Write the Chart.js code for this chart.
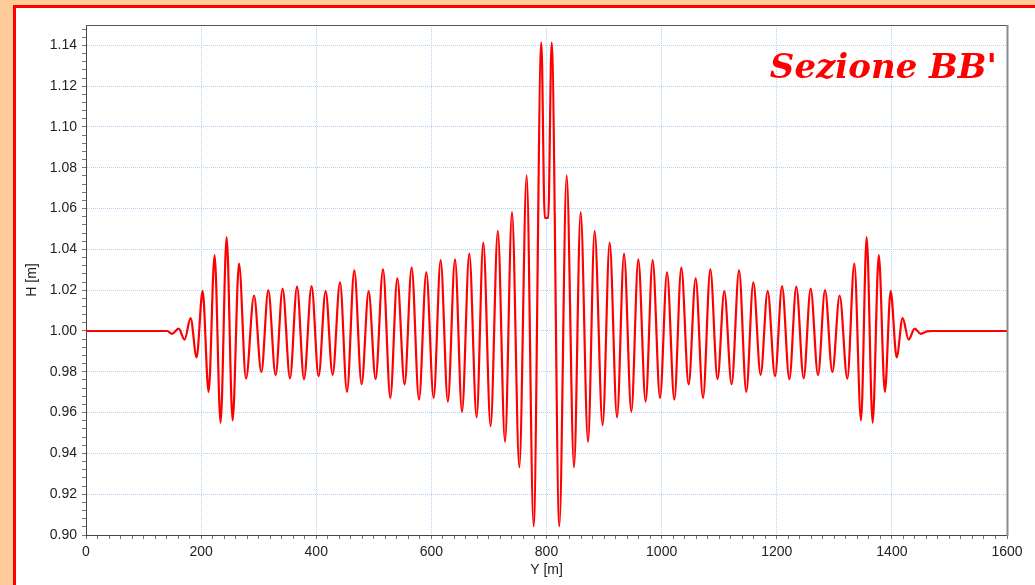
<!DOCTYPE html>
<html><head><meta charset="utf-8">
<script src="https://cdn.jsdelivr.net/npm/chart.js@4.4.1/dist/chart.umd.min.js"></script>
<style>
html,body{margin:0;padding:0;width:1035px;height:585px;overflow:hidden;background:#FFCC99;}
#panel{position:absolute;left:13px;top:5px;width:1100px;height:700px;background:#ffffff;border-left:3px solid #ff0000;border-top:3px solid #ff0000;}
#c{position:absolute;left:0;top:0;}
</style></head><body>
<div id="panel"></div>
<canvas id="c" width="1035" height="585"></canvas>
<script>
// Y [m] positions of the curve's turning points
const posY = [0, 141, 149.4, 160.9, 171.3, 181.7, 192.1, 202.6, 213.0, 223.4, 233.8, 244.3, 254.7, 265.8, 278.0, 291.9, 304.6, 316.7, 329.4, 341.6, 354.4, 366.6, 378.7, 391.9, 404.1, 416.3, 428.4, 441.3, 453.4, 466.1, 478.8, 491.0, 503.1, 516.0, 528.7, 540.8, 553.5, 565.7, 578.5, 591.2, 603.9, 616.1, 628.6, 641.1, 653.2, 665.9, 678.6, 690.2, 702.9, 715.4, 727.9, 740.1, 752.8, 765.5, 777.6, 791.0, 797.0, 803.0, 808.9, 822.3, 835.0, 847.8, 859.3, 872.1, 883.6, 897.5, 909.7, 922.5, 934.7, 947.4, 959.5, 972.2, 984.4, 997.2, 1009.4, 1022.1, 1034.2, 1046.9, 1059.1, 1071.9, 1084.6, 1097.1, 1108.9, 1121.6, 1134.5, 1147.1, 1159.3, 1172.0, 1184.2, 1197.0, 1209.2, 1221.9, 1234.0, 1246.7, 1258.9, 1271.7, 1283.9, 1296.6, 1309.3, 1322.6, 1334.8, 1346.4, 1356.2, 1366.6, 1377.3, 1387.8, 1397.9, 1408.3, 1418.7, 1429.1, 1439.6, 1450.0, 1461.1, 1470, 1600];
// H [m] at those positions
const hH = [1.000, 1.000, 0.9986, 1.0012, 0.9958, 1.0063, 0.9871, 1.0195, 0.9702, 1.0372, 0.9550, 1.0460, 0.9562, 1.0331, 0.9766, 1.0174, 0.9798, 1.0200, 0.9783, 1.0208, 0.9768, 1.0218, 0.9764, 1.0220, 0.9778, 1.0197, 0.9785, 1.0239, 0.9702, 1.0297, 0.9739, 1.0195, 0.9764, 1.0302, 0.9672, 1.0258, 0.9738, 1.0311, 0.9664, 1.0288, 0.9672, 1.0347, 0.9654, 1.0351, 0.9604, 1.0379, 0.9577, 1.0433, 0.9533, 1.0491, 0.9457, 1.0583, 0.9332, 1.0763, 0.9043, 1.1414, 1.0555, 1.0555, 1.1414, 0.9043, 1.0763, 0.9332, 1.0583, 0.9457, 1.0490, 0.9538, 1.0433, 0.9577, 1.0379, 0.9604, 1.0351, 0.9654, 1.0347, 0.9672, 1.0288, 0.9664, 1.0311, 0.9738, 1.0258, 0.9672, 1.0302, 0.9764, 1.0195, 0.9739, 1.0297, 0.9702, 1.0239, 0.9785, 1.0197, 0.9778, 1.0220, 0.9764, 1.0218, 0.9768, 1.0208, 0.9783, 1.0200, 0.9798, 1.0174, 0.9766, 1.0331, 0.9562, 1.0460, 0.9550, 1.0372, 0.9702, 1.0195, 0.9871, 1.0063, 0.9958, 1.0012, 0.9986, 0.9998, 1.000, 1.000];
// labelled tick values
const xTickLabels = [0, 200, 400, 600, 800, 1000, 1200, 1400, 1600];
const yTickLabels = [0.90, 0.92, 0.94, 0.96, 0.98, 1.00, 1.02, 1.04, 1.06, 1.08, 1.10, 1.12, 1.14];
const chartTitle = "Sezione BB'";

const isMajorX = v => xTickLabels.some(t => Math.abs(t - v) < 1e-6);
const isMajorY = v => yTickLabels.some(t => Math.abs(t - v) < 1e-6);
const FONT = "'Liberation Sans', Arial, sans-serif";
const GRID = '#b4d2f8';

const titlePlugin = {
  id: 'sectionTitle',
  afterDraw(chart) {
    const ctx = chart.ctx, a = chart.chartArea;
    ctx.save();
    // top and right frame lines
    ctx.strokeStyle = '#555'; ctx.lineWidth = 1;
    ctx.beginPath(); ctx.moveTo(a.left, a.top + 0.5); ctx.lineTo(a.right, a.top + 0.5); ctx.stroke();
    ctx.strokeStyle = '#8a8a8a'; ctx.lineWidth = 2;
    ctx.beginPath(); ctx.moveTo(a.right + 0.5, a.top); ctx.lineTo(a.right + 0.5, a.bottom + 1); ctx.stroke();
    ctx.fillStyle = '#ff0000';
    ctx.font = "bold italic 34px 'DejaVu Serif', serif";
    ctx.textAlign = 'right';
    ctx.textBaseline = 'alphabetic';
    ctx.fillText(chartTitle, a.right - 10, 78);
    ctx.restore();
  }
};

new Chart(document.getElementById('c'), {
  type: 'line',
  data: {
    datasets: [{
      data: posY.map((x, i) => ({x: x, y: hH[i]})),
      borderColor: '#ff0000',
      borderWidth: 2.2,
      pointRadius: 0,
      cubicInterpolationMode: 'monotone',
      fill: false
    }]
  },
  options: {
    responsive: false,
    animation: false,
    layout: {padding: {left: 0, top: 25, right: 28, bottom: 0}},
    plugins: {legend: {display: false}, tooltip: {enabled: false}},
    scales: {
      x: {
        type: 'linear', min: 0, max: 1600,
        afterFit(s) { s.height = 50; s.paddingLeft = 0; s.paddingRight = 0; },
        ticks: {
          stepSize: 20, autoSkip: false, maxRotation: 0, includeBounds: false,
          callback: v => isMajorX(v) ? String(v) : '',
          font: {family: FONT, size: 14}, color: '#222', padding: 5
        },
        grid: {
          color: c => (c.tick && isMajorX(c.tick.value) && c.tick.value > 0 && c.tick.value < 1600) ? GRID : 'rgba(0,0,0,0)',
          tickColor: '#777', tickLength: 4, lineWidth: 1, tickBorderDash: []
        },
        border: {display: true, color: '#444', width: 1, dash: [1, 1]},
        title: {display: true, text: 'Y [m]', font: {family: FONT, size: 14}, color: '#222', padding: {top: 6, bottom: 6}}
      },
      y: {
        type: 'linear', min: 0.9, max: 1.15,
        afterFit(s) { s.width = 86; s.paddingTop = 0; s.paddingBottom = 0; },
        ticks: {
          stepSize: 0.004, autoSkip: false, includeBounds: false,
          callback: v => isMajorY(v) ? v.toFixed(2) : '',
          font: {family: FONT, size: 14}, color: '#222', padding: 5
        },
        grid: {
          color: c => (c.tick && isMajorY(c.tick.value) && c.tick.value > 0.9001) ? GRID : 'rgba(0,0,0,0)',
          tickColor: '#777', tickLength: 4, lineWidth: 1, tickBorderDash: []
        },
        border: {display: true, color: '#444', width: 1, dash: [1, 1]},
        title: {display: true, text: 'H [m]', font: {family: FONT, size: 14}, color: '#222', padding: {top: 24, bottom: 0}}
      }
    }
  },
  plugins: [titlePlugin]
});
</script>
</body></html>
